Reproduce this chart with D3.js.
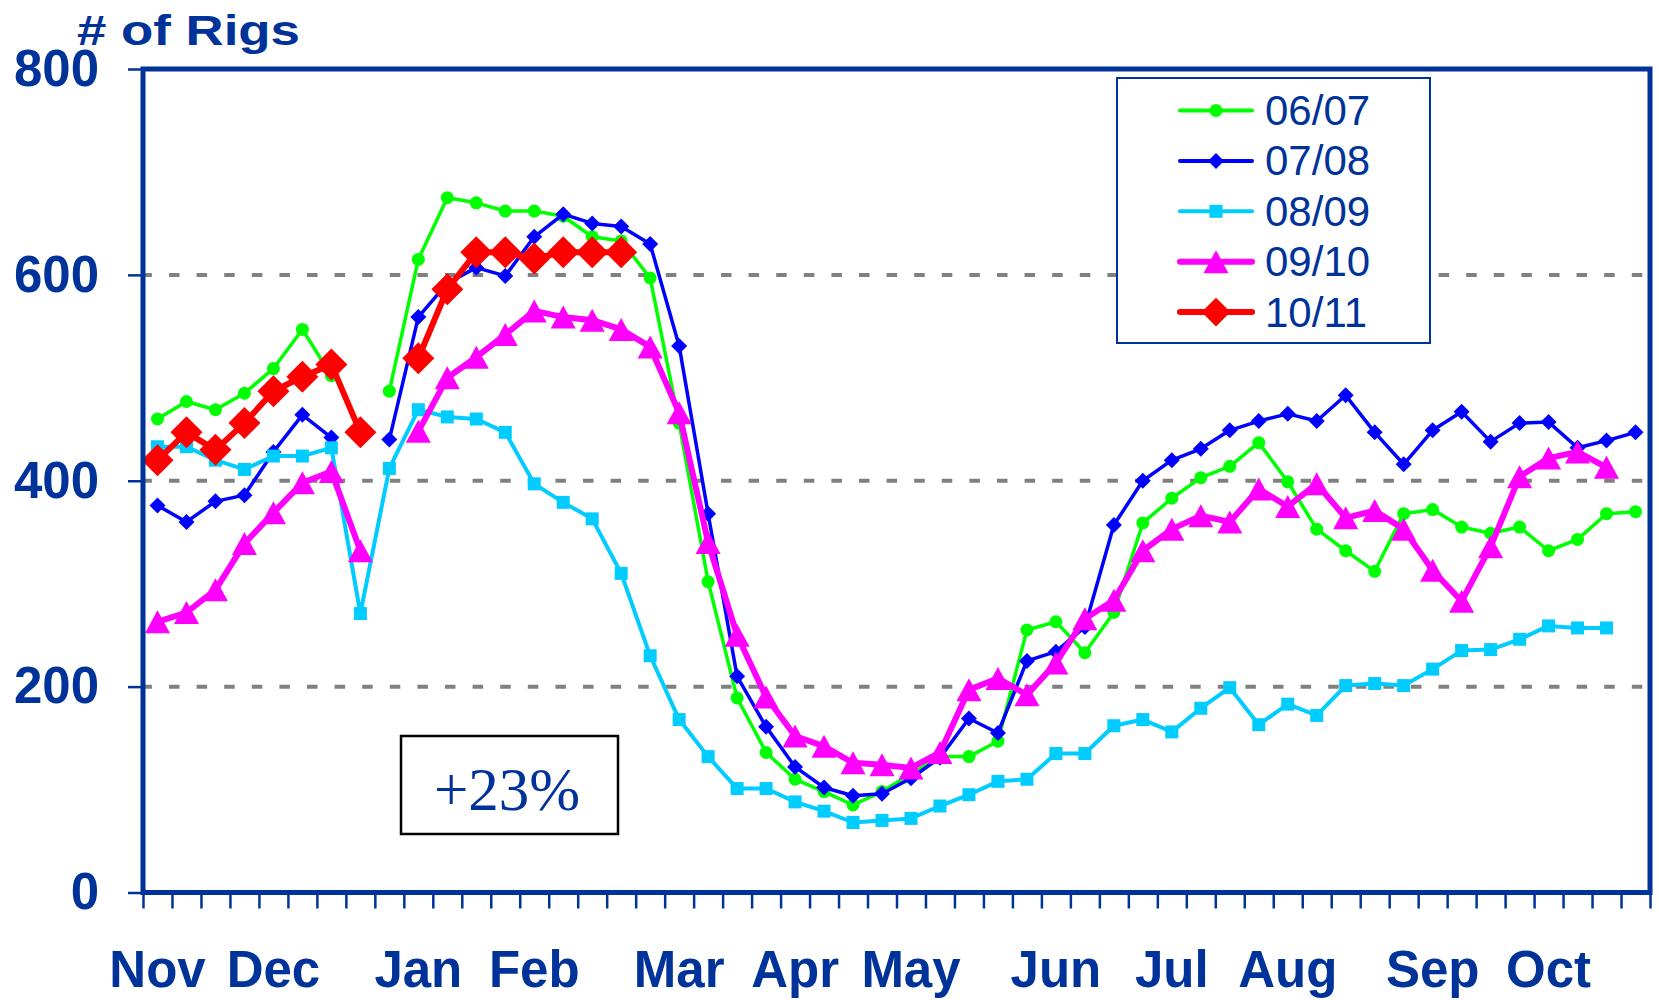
<!DOCTYPE html>
<html>
<head>
<meta charset="utf-8">
<script src="https://cdnjs.cloudflare.com/ajax/libs/d3/7.8.5/d3.min.js"></script>
<style>
  body { margin: 0; background: #fff; }
  svg { display: block; }
  text { font-family: "Liberation Sans", Arial, sans-serif; }
</style>
</head>
<body>
<div id="chart"></div>
<script>
// weekly rig counts, Nov -> Oct, 52 weeks (null = no reading)
var weeks = d3.range(52);
var monthNames = ["Nov", "Dec", "Jan", "Feb", "Mar", "Apr", "May", "Jun", "Jul", "Aug", "Sep", "Oct"];
var monthWeeks = [0, 4, 9, 13, 18, 22, 26, 31, 35, 39, 44, 48];

var rigs0607 = [460, 477, 469, 485, 509, 547, 502, null, 487, 615, 675, 670, 662, 662, 657, 637, 633, 597,
    456, 302, 189, 136, 110, 98, 85, 98, 115, 132, 132, 147, 255, 263, 233, 272, 359, 383, 403, 414,
    437, 399, 353, 332, 312, 368, 372, 355, 349, 355, 332, 343, 368, 370];
var rigs0708 = [376, 360, 380, 386, 428, 464, 442, null, 440, 559, 592, 607, 599, 637, 659, 650, 647, 630,
    531, 368, 210, 161, 122, 102, 94, 96, 111, 131, 169, 155, 225, 234, 258, 357, 400, 420, 431, 449,
    458, 465, 458, 483, 447, 416, 449, 467, 438, 456, 457, 432, 439, 447];
var rigs0809 = [433, 433, 420, 411, 424, 424, 432, 271, 412, 469, 462, 460, 447, 397, 379, 363, 310, 230,
    168, 132, 101, 101, 88, 79, 68, 70, 72, 84, 95, 108, 110, 135, 135, 162, 168, 156, 179, 199,
    163, 183, 172, 201, 203, 201, 217, 235, 236, 246, 259, 257, 257, null];
var rigs0910 = [263, 272, 294, 339, 369, 398, 409, 332, null, 448, 500, 520, 542, 565, 559, 556, 547, 530,
    466, 340, 250, 190, 152, 142, 126, 124, 121, 136, 197, 208, 192, 223, 266, 284, 332, 353, 366, 360,
    392, 375, 397, 364, 371, 353, 313, 283, 336, 404, 422, 428, 413, null];
var rigs1011 = [420, 447, 430, 456, 487, 501, 513, 447, null, 519, 586, 622, 622, 616, 622, 622, 622, null,
    null, null, null, null, null, null, null, null, null, null, null, null, null, null, null, null, null, null, null, null,
    null, null, null, null, null, null, null, null, null, null, null, null, null, null];

var seriesNames = ["06/07", "07/08", "08/09", "09/10", "10/11"];
var seriesValues = [rigs0607, rigs0708, rigs0809, rigs0910, rigs1011];
var yTicks = [0, 200, 400, 600, 800];
var gridValues = [200, 400, 600];

// look of each series
var styles = [
    {color: "#00ff00", width: 3.5, shape: "circle",   w: 13, h: 13},
    {color: "#0000ff", width: 3.5, shape: "diamond",  w: 16, h: 16},
    {color: "#00ccff", width: 4,   shape: "square",   w: 13, h: 13},
    {color: "#ff00ff", width: 6,   shape: "triangle", w: 25, h: 23},
    {color: "#ff0000", width: 6,   shape: "diamond",  w: 32, h: 32}
];

var navy = "#003399";
var chartW = 1659, chartH = 1000;
var plotL = 143, plotR = 1650, plotT = 69, plotB = 892.5;

var svg = d3.select("#chart").append("svg")
    .attr("width", chartW)
    .attr("height", chartH);

var x = d3.scaleBand()
    .domain(weeks)
    .range([plotL, plotR]);
var xEdge = d3.scaleLinear()
    .domain([0, weeks.length])
    .range([plotL, plotR]);
var y = d3.scaleLinear()
    .domain([0, 800])
    .range([plotB, plotT]);

function cx(i) {
    return x(i) + x.bandwidth() / 2;
}

function markerPath(type, w, h) {
    var p = d3.path();
    if (type === "circle") {
        p.moveTo(w / 2, 0);
        p.arc(0, 0, w / 2, 0, 2 * Math.PI);
    } else if (type === "square") {
        p.rect(-w / 2, -h / 2, w, h);
    } else if (type === "triangle") {
        p.moveTo(0, -h / 2);
        p.lineTo(w / 2, h / 2);
        p.lineTo(-w / 2, h / 2);
        p.closePath();
    } else {
        p.moveTo(0, -h / 2);
        p.lineTo(w / 2, 0);
        p.lineTo(0, h / 2);
        p.lineTo(-w / 2, 0);
        p.closePath();
    }
    return p.toString();
}

// dashed grid
svg.append("g")
    .selectAll("line")
    .data(gridValues)
    .enter().append("line")
    .attr("x1", plotL - 1.6)
    .attr("x2", plotR - 3)
    .attr("y1", function (d) { return y(d); })
    .attr("y2", function (d) { return y(d); })
    .attr("stroke", "#808080")
    .attr("stroke-width", 4)
    .attr("stroke-dasharray", "10.5 17.1");

// series
var line = d3.line()
    .defined(function (d) { return d.v !== null; })
    .x(function (d) { return cx(d.i); })
    .y(function (d) { return y(d.v); });

seriesValues.forEach(function (vals, k) {
    var st = styles[k];
    var pts = vals.map(function (v, i) { return {i: i, v: v}; });
    var g = svg.append("g").attr("class", "series");
    g.append("path")
        .datum(pts)
        .attr("d", line)
        .attr("fill", "none")
        .attr("stroke", st.color)
        .attr("stroke-width", st.width)
        .attr("stroke-linejoin", "round");
    g.selectAll(".mark")
        .data(pts.filter(function (d) { return d.v !== null; }))
        .enter().append("path")
        .attr("class", "mark")
        .attr("d", markerPath(st.shape, st.w, st.h))
        .attr("transform", function (d) { return "translate(" + cx(d.i) + "," + y(d.v) + ")"; })
        .attr("fill", st.color);
});

// frame
svg.append("rect")
    .attr("x", plotL)
    .attr("y", plotT)
    .attr("width", plotR - plotL)
    .attr("height", plotB - plotT)
    .attr("fill", "none")
    .attr("stroke", navy)
    .attr("stroke-width", 5);

// week ticks along the bottom
var xTicks = svg.append("g")
    .attr("transform", "translate(0," + plotB + ")")
    .call(d3.axisBottom(xEdge).tickValues(d3.range(weeks.length + 1)).tickSize(16).tickFormat(""));
xTicks.select(".domain").remove();
xTicks.selectAll("line").attr("stroke", navy).attr("stroke-width", 2.5);

// month names
var xLabels = svg.append("g")
    .attr("transform", "translate(0," + plotB + ")")
    .call(d3.axisBottom(x)
        .tickValues(monthWeeks)
        .tickSize(0)
        .tickPadding(58)
        .tickFormat(function (d) { return monthNames[monthWeeks.indexOf(d)]; }));
xLabels.select(".domain").remove();
xLabels.selectAll("text")
    .attr("fill", navy)
    .style("font-size", "51px")
    .style("font-weight", "bold")
    .style("font-family", "'Liberation Sans', Arial, sans-serif");

// y axis
var yAxis = svg.append("g")
    .attr("transform", "translate(" + plotL + ",0)")
    .call(d3.axisLeft(y).tickValues(yTicks).tickSize(15).tickPadding(29));
yAxis.select(".domain").remove();
yAxis.selectAll("line").attr("stroke", navy).attr("stroke-width", 2.5);
yAxis.selectAll("text")
    .attr("fill", navy)
    .style("font-size", "51px")
    .style("font-weight", "bold")
    .style("font-family", "'Liberation Sans', Arial, sans-serif");

// axis title
svg.append("text")
    .attr("x", 77)
    .attr("y", 45)
    .attr("textLength", 223)
    .attr("lengthAdjust", "spacingAndGlyphs")
    .attr("fill", navy)
    .style("font-size", "42px")
    .style("font-weight", "bold")
    .text("# of Rigs");

// legend
var legend = svg.append("g");
legend.append("rect")
    .attr("x", 1117)
    .attr("y", 78)
    .attr("width", 313)
    .attr("height", 265)
    .attr("fill", "#fff")
    .attr("stroke", navy)
    .attr("stroke-width", 2);

var rows = legend.selectAll(".row")
    .data(seriesNames)
    .enter().append("g")
    .attr("class", "row")
    .attr("transform", function (d, k) { return "translate(0," + (110.5 + k * 50.4) + ")"; });
rows.append("line")
    .attr("x1", 1180)
    .attr("x2", 1252)
    .attr("stroke", function (d, k) { return styles[k].color; })
    .attr("stroke-width", function (d, k) { return Math.max(styles[k].width, 4); })
    .attr("stroke-linecap", "round");
rows.append("path")
    .attr("transform", "translate(1216,0)")
    .attr("d", function (d, k) {
        var st = styles[k];
        var s = k === 4 ? 0.9 : 1;
        return markerPath(st.shape, st.w * s, st.h * s);
    })
    .attr("fill", function (d, k) { return styles[k].color; });
rows.append("text")
    .attr("x", 1265)
    .attr("y", 14.5)
    .attr("fill", navy)
    .style("font-size", "42px")
    .text(function (d) { return d; });

// change note
svg.append("rect")
    .attr("x", 401)
    .attr("y", 736)
    .attr("width", 217)
    .attr("height", 98)
    .attr("fill", "#fff")
    .attr("stroke", "#000")
    .attr("stroke-width", 2.5);
svg.append("text")
    .attr("x", 507)
    .attr("y", 810)
    .attr("text-anchor", "middle")
    .attr("fill", navy)
    .style("font-family", "'Liberation Serif', 'Times New Roman', serif")
    .style("font-size", "61px")
    .text("+23%");
</script>
</body>
</html>
